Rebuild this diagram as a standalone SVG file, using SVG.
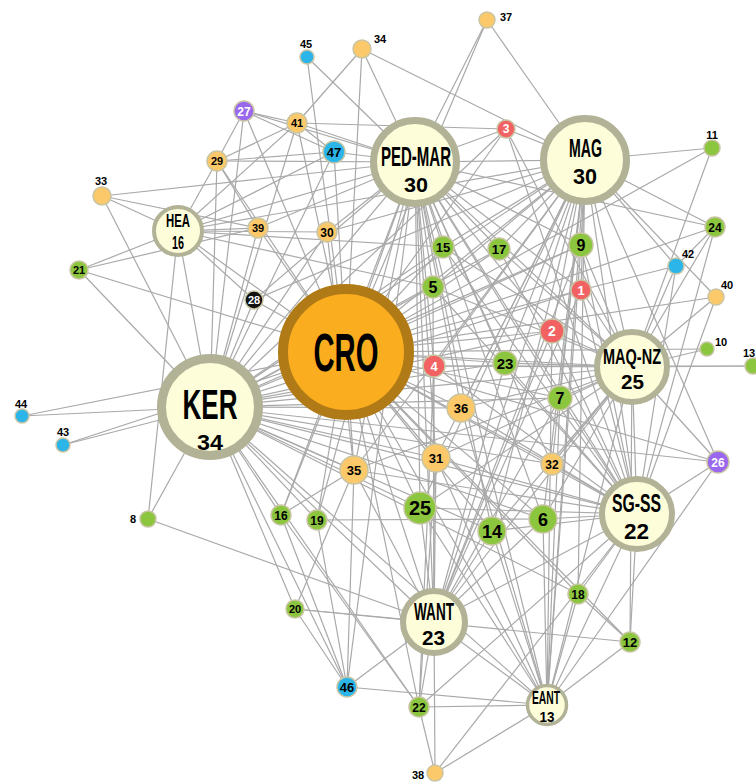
<svg xmlns="http://www.w3.org/2000/svg" width="756" height="783" viewBox="0 0 756 783">
<style>
.e line{stroke:#a9a9a9;stroke-width:1.2}
.s{stroke:#c9c5a5;stroke-width:1.5}
.o{fill:#fcc96a}.g{fill:#8cc63f}.r{fill:#f26262}.b{fill:#2bb5e8}.p{fill:#9a68ee}.k{fill:#111}
.t{font-family:"Liberation Sans",Arial,sans-serif;font-weight:bold;text-anchor:middle;fill:#000}
.w{fill:#fff}
.h{fill:#fdfdda;stroke:#b2b297}
</style>
<rect width="756" height="783" fill="#fff"/>
<g class="e" id="edges">
<line x1="346" y1="352" x2="210" y2="407"/><line x1="346" y1="352" x2="415" y2="162"/><line x1="346" y1="352" x2="585" y2="160"/><line x1="346" y1="352" x2="632" y2="367"/><line x1="346" y1="352" x2="637" y2="514"/><line x1="346" y1="352" x2="434" y2="622"/><line x1="346" y1="352" x2="547" y2="705"/><line x1="346" y1="352" x2="178" y2="231"/>
<line x1="210" y1="407" x2="415" y2="162"/><line x1="210" y1="407" x2="585" y2="160"/><line x1="210" y1="407" x2="632" y2="367"/><line x1="210" y1="407" x2="637" y2="514"/><line x1="210" y1="407" x2="434" y2="622"/><line x1="210" y1="407" x2="178" y2="231"/><line x1="210" y1="407" x2="547" y2="705"/>
<line x1="415" y1="162" x2="585" y2="160"/><line x1="415" y1="162" x2="632" y2="367"/><line x1="415" y1="162" x2="637" y2="514"/><line x1="415" y1="162" x2="434" y2="622"/><line x1="415" y1="162" x2="178" y2="231"/><line x1="415" y1="162" x2="547" y2="705"/>
<line x1="585" y1="160" x2="632" y2="367"/><line x1="585" y1="160" x2="637" y2="514"/><line x1="585" y1="160" x2="434" y2="622"/><line x1="585" y1="160" x2="547" y2="705"/><line x1="585" y1="160" x2="178" y2="231"/>
<line x1="632" y1="367" x2="637" y2="514"/><line x1="632" y1="367" x2="434" y2="622"/><line x1="632" y1="367" x2="547" y2="705"/><line x1="637" y1="514" x2="434" y2="622"/><line x1="637" y1="514" x2="547" y2="705"/><line x1="434" y1="622" x2="547" y2="705"/>
<line x1="581" y1="290" x2="585" y2="160"/><line x1="581" y1="290" x2="415" y2="162"/><line x1="581" y1="290" x2="346" y2="352"/><line x1="581" y1="290" x2="210" y2="407"/><line x1="581" y1="290" x2="632" y2="367"/><line x1="581" y1="290" x2="637" y2="514"/><line x1="581" y1="290" x2="676" y2="266"/><line x1="581" y1="290" x2="434" y2="622"/>
<line x1="552" y1="331" x2="585" y2="160"/><line x1="552" y1="331" x2="415" y2="162"/><line x1="552" y1="331" x2="346" y2="352"/><line x1="552" y1="331" x2="210" y2="407"/><line x1="552" y1="331" x2="632" y2="367"/><line x1="552" y1="331" x2="637" y2="514"/><line x1="552" y1="331" x2="434" y2="622"/><line x1="552" y1="331" x2="547" y2="705"/>
<line x1="506" y1="129" x2="415" y2="162"/><line x1="506" y1="129" x2="585" y2="160"/><line x1="506" y1="129" x2="346" y2="352"/><line x1="506" y1="129" x2="210" y2="407"/><line x1="506" y1="129" x2="632" y2="367"/><line x1="506" y1="129" x2="637" y2="514"/><line x1="506" y1="129" x2="297" y2="123"/>
<line x1="434" y1="366" x2="415" y2="162"/><line x1="434" y1="366" x2="585" y2="160"/><line x1="434" y1="366" x2="210" y2="407"/><line x1="434" y1="366" x2="632" y2="367"/><line x1="434" y1="366" x2="637" y2="514"/><line x1="434" y1="366" x2="434" y2="622"/><line x1="434" y1="366" x2="419" y2="707"/><line x1="434" y1="366" x2="753" y2="366"/>
<line x1="433" y1="287" x2="415" y2="162"/><line x1="433" y1="287" x2="585" y2="160"/><line x1="433" y1="287" x2="210" y2="407"/><line x1="433" y1="287" x2="632" y2="367"/><line x1="433" y1="287" x2="637" y2="514"/><line x1="433" y1="287" x2="434" y2="622"/><line x1="433" y1="287" x2="178" y2="231"/>
<line x1="543" y1="519" x2="346" y2="352"/><line x1="543" y1="519" x2="210" y2="407"/><line x1="543" y1="519" x2="415" y2="162"/><line x1="543" y1="519" x2="585" y2="160"/><line x1="543" y1="519" x2="632" y2="367"/><line x1="543" y1="519" x2="637" y2="514"/><line x1="543" y1="519" x2="434" y2="622"/><line x1="543" y1="519" x2="317" y2="520"/><line x1="543" y1="519" x2="547" y2="705"/>
<line x1="560" y1="398" x2="585" y2="160"/><line x1="560" y1="398" x2="415" y2="162"/><line x1="560" y1="398" x2="346" y2="352"/><line x1="560" y1="398" x2="210" y2="407"/><line x1="560" y1="398" x2="632" y2="367"/><line x1="560" y1="398" x2="637" y2="514"/><line x1="560" y1="398" x2="434" y2="622"/><line x1="560" y1="398" x2="547" y2="705"/>
<line x1="148" y1="519" x2="210" y2="407"/><line x1="148" y1="519" x2="178" y2="231"/><line x1="148" y1="519" x2="434" y2="622"/>
<line x1="581" y1="245" x2="585" y2="160"/><line x1="581" y1="245" x2="415" y2="162"/><line x1="581" y1="245" x2="346" y2="352"/><line x1="581" y1="245" x2="210" y2="407"/><line x1="581" y1="245" x2="632" y2="367"/><line x1="581" y1="245" x2="637" y2="514"/><line x1="581" y1="245" x2="434" y2="622"/><line x1="581" y1="245" x2="547" y2="705"/>
<line x1="707" y1="349" x2="632" y2="367"/><line x1="707" y1="349" x2="346" y2="352"/>
<line x1="712" y1="148" x2="585" y2="160"/><line x1="712" y1="148" x2="632" y2="367"/><line x1="712" y1="148" x2="346" y2="352"/>
<line x1="630" y1="642" x2="637" y2="514"/><line x1="630" y1="642" x2="632" y2="367"/><line x1="630" y1="642" x2="547" y2="705"/><line x1="630" y1="642" x2="578" y2="594"/><line x1="630" y1="642" x2="295" y2="609"/><line x1="630" y1="642" x2="346" y2="352"/>
<line x1="753" y1="366" x2="632" y2="367"/>
<line x1="492" y1="531" x2="346" y2="352"/><line x1="492" y1="531" x2="210" y2="407"/><line x1="492" y1="531" x2="415" y2="162"/><line x1="492" y1="531" x2="585" y2="160"/><line x1="492" y1="531" x2="632" y2="367"/><line x1="492" y1="531" x2="637" y2="514"/><line x1="492" y1="531" x2="434" y2="622"/><line x1="492" y1="531" x2="547" y2="705"/>
<line x1="443" y1="247" x2="415" y2="162"/><line x1="443" y1="247" x2="585" y2="160"/><line x1="443" y1="247" x2="346" y2="352"/><line x1="443" y1="247" x2="210" y2="407"/><line x1="443" y1="247" x2="632" y2="367"/><line x1="443" y1="247" x2="637" y2="514"/><line x1="443" y1="247" x2="178" y2="231"/>
<line x1="281" y1="515" x2="210" y2="407"/><line x1="281" y1="515" x2="346" y2="352"/><line x1="281" y1="515" x2="354" y2="470"/><line x1="281" y1="515" x2="419" y2="707"/><line x1="281" y1="515" x2="415" y2="162"/><line x1="281" y1="515" x2="347" y2="687"/>
<line x1="499" y1="249" x2="415" y2="162"/><line x1="499" y1="249" x2="585" y2="160"/><line x1="499" y1="249" x2="346" y2="352"/><line x1="499" y1="249" x2="210" y2="407"/><line x1="499" y1="249" x2="632" y2="367"/><line x1="499" y1="249" x2="637" y2="514"/>
<line x1="578" y1="594" x2="585" y2="160"/><line x1="578" y1="594" x2="637" y2="514"/><line x1="578" y1="594" x2="547" y2="705"/><line x1="578" y1="594" x2="210" y2="407"/><line x1="578" y1="594" x2="346" y2="352"/>
<line x1="317" y1="520" x2="346" y2="352"/><line x1="317" y1="520" x2="210" y2="407"/><line x1="317" y1="520" x2="415" y2="162"/><line x1="317" y1="520" x2="347" y2="687"/>
<line x1="295" y1="609" x2="210" y2="407"/><line x1="295" y1="609" x2="434" y2="622"/><line x1="295" y1="609" x2="347" y2="687"/><line x1="295" y1="609" x2="354" y2="470"/>
<line x1="79" y1="270" x2="178" y2="231"/><line x1="79" y1="270" x2="258" y2="228"/><line x1="79" y1="270" x2="346" y2="352"/><line x1="79" y1="270" x2="210" y2="407"/>
<line x1="419" y1="707" x2="434" y2="622"/><line x1="419" y1="707" x2="210" y2="407"/><line x1="419" y1="707" x2="346" y2="352"/><line x1="419" y1="707" x2="547" y2="705"/><line x1="419" y1="707" x2="435" y2="773"/><line x1="419" y1="707" x2="637" y2="514"/>
<line x1="505" y1="363" x2="346" y2="352"/><line x1="505" y1="363" x2="415" y2="162"/><line x1="505" y1="363" x2="585" y2="160"/><line x1="505" y1="363" x2="210" y2="407"/><line x1="505" y1="363" x2="632" y2="367"/><line x1="505" y1="363" x2="637" y2="514"/><line x1="505" y1="363" x2="434" y2="622"/>
<line x1="715" y1="227" x2="585" y2="160"/><line x1="715" y1="227" x2="632" y2="367"/><line x1="715" y1="227" x2="637" y2="514"/><line x1="715" y1="227" x2="346" y2="352"/><line x1="715" y1="227" x2="415" y2="162"/><line x1="715" y1="227" x2="676" y2="266"/>
<line x1="420" y1="508" x2="346" y2="352"/><line x1="420" y1="508" x2="210" y2="407"/><line x1="420" y1="508" x2="415" y2="162"/><line x1="420" y1="508" x2="585" y2="160"/><line x1="420" y1="508" x2="632" y2="367"/><line x1="420" y1="508" x2="637" y2="514"/><line x1="420" y1="508" x2="434" y2="622"/><line x1="420" y1="508" x2="547" y2="705"/>
<line x1="718" y1="462" x2="632" y2="367"/><line x1="718" y1="462" x2="637" y2="514"/><line x1="718" y1="462" x2="585" y2="160"/><line x1="718" y1="462" x2="346" y2="352"/><line x1="718" y1="462" x2="547" y2="705"/><line x1="718" y1="462" x2="210" y2="407"/>
<line x1="244" y1="111" x2="217" y2="161"/><line x1="244" y1="111" x2="297" y2="123"/><line x1="244" y1="111" x2="210" y2="407"/><line x1="244" y1="111" x2="346" y2="352"/><line x1="244" y1="111" x2="415" y2="162"/><line x1="244" y1="111" x2="334" y2="152"/>
<line x1="254" y1="300" x2="210" y2="407"/><line x1="254" y1="300" x2="178" y2="231"/><line x1="254" y1="300" x2="346" y2="352"/><line x1="254" y1="300" x2="415" y2="162"/><line x1="254" y1="300" x2="585" y2="160"/>
<line x1="217" y1="161" x2="178" y2="231"/><line x1="217" y1="161" x2="210" y2="407"/><line x1="217" y1="161" x2="415" y2="162"/><line x1="217" y1="161" x2="346" y2="352"/><line x1="217" y1="161" x2="297" y2="123"/>
<line x1="327" y1="232" x2="178" y2="231"/><line x1="327" y1="232" x2="415" y2="162"/><line x1="327" y1="232" x2="210" y2="407"/><line x1="327" y1="232" x2="585" y2="160"/><line x1="327" y1="232" x2="354" y2="470"/>
<line x1="436" y1="458" x2="346" y2="352"/><line x1="436" y1="458" x2="210" y2="407"/><line x1="436" y1="458" x2="415" y2="162"/><line x1="436" y1="458" x2="585" y2="160"/><line x1="436" y1="458" x2="632" y2="367"/><line x1="436" y1="458" x2="637" y2="514"/><line x1="436" y1="458" x2="434" y2="622"/><line x1="436" y1="458" x2="547" y2="705"/><line x1="436" y1="458" x2="419" y2="707"/>
<line x1="552" y1="464" x2="585" y2="160"/><line x1="552" y1="464" x2="632" y2="367"/><line x1="552" y1="464" x2="637" y2="514"/><line x1="552" y1="464" x2="346" y2="352"/><line x1="552" y1="464" x2="210" y2="407"/><line x1="552" y1="464" x2="415" y2="162"/>
<line x1="102" y1="196" x2="178" y2="231"/><line x1="102" y1="196" x2="415" y2="162"/><line x1="102" y1="196" x2="210" y2="407"/><line x1="102" y1="196" x2="258" y2="228"/>
<line x1="362" y1="49" x2="297" y2="123"/><line x1="362" y1="49" x2="346" y2="352"/><line x1="362" y1="49" x2="415" y2="162"/><line x1="362" y1="49" x2="585" y2="160"/>
<line x1="354" y1="470" x2="346" y2="352"/><line x1="354" y1="470" x2="210" y2="407"/><line x1="354" y1="470" x2="415" y2="162"/><line x1="354" y1="470" x2="585" y2="160"/><line x1="354" y1="470" x2="632" y2="367"/><line x1="354" y1="470" x2="637" y2="514"/><line x1="354" y1="470" x2="434" y2="622"/>
<line x1="461" y1="408" x2="346" y2="352"/><line x1="461" y1="408" x2="210" y2="407"/><line x1="461" y1="408" x2="415" y2="162"/><line x1="461" y1="408" x2="585" y2="160"/><line x1="461" y1="408" x2="632" y2="367"/><line x1="461" y1="408" x2="637" y2="514"/><line x1="461" y1="408" x2="547" y2="705"/>
<line x1="487" y1="20" x2="415" y2="162"/><line x1="487" y1="20" x2="346" y2="352"/><line x1="487" y1="20" x2="585" y2="160"/>
<line x1="435" y1="773" x2="434" y2="622"/><line x1="435" y1="773" x2="637" y2="514"/><line x1="435" y1="773" x2="547" y2="705"/>
<line x1="258" y1="228" x2="178" y2="231"/><line x1="258" y1="228" x2="415" y2="162"/><line x1="258" y1="228" x2="346" y2="352"/><line x1="258" y1="228" x2="210" y2="407"/><line x1="258" y1="228" x2="217" y2="161"/>
<line x1="716" y1="297" x2="585" y2="160"/><line x1="716" y1="297" x2="632" y2="367"/><line x1="716" y1="297" x2="346" y2="352"/><line x1="716" y1="297" x2="637" y2="514"/>
<line x1="297" y1="123" x2="415" y2="162"/><line x1="297" y1="123" x2="178" y2="231"/><line x1="297" y1="123" x2="210" y2="407"/><line x1="297" y1="123" x2="346" y2="352"/>
<line x1="676" y1="266" x2="585" y2="160"/><line x1="676" y1="266" x2="632" y2="367"/><line x1="676" y1="266" x2="637" y2="514"/>
<line x1="63" y1="445" x2="210" y2="407"/><line x1="63" y1="445" x2="346" y2="352"/>
<line x1="22" y1="416" x2="210" y2="407"/><line x1="22" y1="416" x2="346" y2="352"/>
<line x1="307" y1="57" x2="415" y2="162"/><line x1="307" y1="57" x2="346" y2="352"/>
<line x1="347" y1="687" x2="434" y2="622"/><line x1="347" y1="687" x2="210" y2="407"/><line x1="347" y1="687" x2="547" y2="705"/><line x1="347" y1="687" x2="354" y2="470"/><line x1="347" y1="687" x2="415" y2="162"/>
<line x1="334" y1="152" x2="415" y2="162"/><line x1="334" y1="152" x2="217" y2="161"/><line x1="334" y1="152" x2="297" y2="123"/><line x1="334" y1="152" x2="210" y2="407"/><line x1="334" y1="152" x2="346" y2="352"/><line x1="334" y1="152" x2="178" y2="231"/>
</g>
<g id="CRO"><circle cx="346" cy="352" r="63" fill="#f9ad1f" stroke="#b07b16" stroke-width="10"/><text class="t" x="346" y="371" font-size="53" textLength="65" lengthAdjust="spacingAndGlyphs">CRO</text></g>
<g id="KER"><circle class="h" cx="210" cy="407" r="48.5" stroke-width="9"/><text class="t" x="210" y="419" font-size="43" textLength="55" lengthAdjust="spacingAndGlyphs">KER</text><text class="t" x="210" y="450" font-size="22" textLength="26" lengthAdjust="spacingAndGlyphs">34</text></g>
<g id="PED-MAR"><circle class="h" cx="415" cy="162" r="41.5" stroke-width="7"/><text class="t" x="416" y="166" font-size="28" textLength="70" lengthAdjust="spacingAndGlyphs">PED-MAR</text><text class="t" x="416" y="192" font-size="21" textLength="24" lengthAdjust="spacingAndGlyphs">30</text></g>
<g id="MAG"><circle class="h" cx="585" cy="160" r="41.5" stroke-width="7"/><text class="t" x="585.5" y="157" font-size="25" textLength="33" lengthAdjust="spacingAndGlyphs">MAG</text><text class="t" x="585" y="184" font-size="22" textLength="24" lengthAdjust="spacingAndGlyphs">30</text></g>
<g id="HEA"><circle class="h" cx="178" cy="231" r="24" stroke-width="4"/><text class="t" x="178" y="226.5" font-size="19" textLength="24" lengthAdjust="spacingAndGlyphs">HEA</text><text class="t" x="178" y="248.5" font-size="19" textLength="12" lengthAdjust="spacingAndGlyphs">16</text></g>
<g id="MAQ-NZ"><circle class="h" cx="632" cy="367" r="35" stroke-width="6"/><text class="t" x="632" y="364" font-size="22" textLength="58" lengthAdjust="spacingAndGlyphs">MAQ-NZ</text><text class="t" x="632.5" y="389" font-size="21" textLength="23" lengthAdjust="spacingAndGlyphs">25</text></g>
<g id="SG-SS"><circle class="h" cx="637" cy="514" r="35" stroke-width="6"/><text class="t" x="636.5" y="512" font-size="25" textLength="49" lengthAdjust="spacingAndGlyphs">SG-SS</text><text class="t" x="636.5" y="539" font-size="22" textLength="25" lengthAdjust="spacingAndGlyphs">22</text></g>
<g id="WANT"><circle class="h" cx="434" cy="622" r="31" stroke-width="6"/><text class="t" x="434" y="620" font-size="23" textLength="40" lengthAdjust="spacingAndGlyphs">WANT</text><text class="t" x="433.5" y="645" font-size="21" textLength="23" lengthAdjust="spacingAndGlyphs">23</text></g>
<g id="EANT"><circle class="h" cx="547" cy="705" r="19.5" stroke-width="3.5"/><text class="t" x="546" y="704" font-size="18" textLength="28" lengthAdjust="spacingAndGlyphs">EANT</text><text class="t" x="547" y="722" font-size="15" textLength="15" lengthAdjust="spacingAndGlyphs">13</text></g>
<g id="n1"><circle class="r s" cx="581" cy="290" r="10"/><text class="t w" x="581" y="295" font-size="13">1</text></g>
<g id="n2"><circle class="r s" cx="552" cy="331" r="12"/><text class="t w" x="552" y="336" font-size="14">2</text></g>
<g id="n3"><circle class="r s" cx="506" cy="129" r="9"/><text class="t w" x="506" y="133" font-size="12">3</text></g>
<g id="n4"><circle class="r s" cx="434" cy="366" r="11"/><text class="t w" x="434" y="371" font-size="13">4</text></g>
<g id="n5"><circle class="g s" cx="433" cy="287" r="11"/><text class="t" x="433" y="292.5" font-size="16">5</text></g>
<g id="n6"><circle class="g s" cx="543" cy="519" r="14"/><text class="t" x="543" y="525.5" font-size="18">6</text></g>
<g id="n7"><circle class="g s" cx="560" cy="398" r="12"/><text class="t" x="560" y="404" font-size="16">7</text></g>
<g id="n8"><circle class="g s" cx="148" cy="519" r="8"/><text class="t" x="133" y="523" font-size="11">8</text></g>
<g id="n9"><circle class="g s" cx="581" cy="245" r="12"/><text class="t" x="581" y="251" font-size="16">9</text></g>
<g id="n10"><circle class="g s" cx="707" cy="349" r="7"/><text class="t" x="721" y="346" font-size="11">10</text></g>
<g id="n11"><circle class="g s" cx="712" cy="148" r="8"/><text class="t" x="712" y="139" font-size="11">11</text></g>
<g id="n12"><circle class="g s" cx="630" cy="642" r="10"/><text class="t" x="630" y="647" font-size="13">12</text></g>
<g id="n13"><circle class="g s" cx="753" cy="366" r="8"/><text class="t" x="749" y="357" font-size="11" text-anchor="start">13</text></g>
<g id="n14"><circle class="g s" cx="492" cy="531" r="14"/><text class="t" x="492" y="537.5" font-size="18">14</text></g>
<g id="n15"><circle class="g s" cx="443" cy="247" r="11"/><text class="t" x="443" y="252" font-size="13">15</text></g>
<g id="n16"><circle class="g s" cx="281" cy="515" r="10"/><text class="t" x="281" y="519.5" font-size="12">16</text></g>
<g id="n17"><circle class="g s" cx="499" cy="249" r="11"/><text class="t" x="499" y="254" font-size="13">17</text></g>
<g id="n18"><circle class="g s" cx="578" cy="594" r="10"/><text class="t" x="578" y="598.5" font-size="12">18</text></g>
<g id="n19"><circle class="g s" cx="317" cy="520" r="10"/><text class="t" x="317" y="524.5" font-size="12">19</text></g>
<g id="n20"><circle class="g s" cx="295" cy="609" r="9"/><text class="t" x="295" y="613" font-size="11">20</text></g>
<g id="n21"><circle class="g s" cx="79" cy="270" r="9"/><text class="t" x="79" y="274" font-size="11">21</text></g>
<g id="n22"><circle class="g s" cx="419" cy="707" r="10"/><text class="t" x="419" y="711.5" font-size="12">22</text></g>
<g id="n23"><circle class="g s" cx="505" cy="363" r="12"/><text class="t" x="505" y="368.5" font-size="15">23</text></g>
<g id="n24"><circle class="g s" cx="715" cy="227" r="10"/><text class="t" x="715" y="231.5" font-size="12">24</text></g>
<g id="n25"><circle class="g s" cx="420" cy="508" r="16"/><text class="t" x="420" y="515" font-size="20">25</text></g>
<g id="n26"><circle class="p s" cx="718" cy="462" r="11"/><text class="t w" x="718" y="466.5" font-size="12">26</text></g>
<g id="n27"><circle class="p s" cx="244" cy="111" r="10"/><text class="t w" x="244" y="115.5" font-size="12">27</text></g>
<g id="n28"><circle class="k s" cx="254" cy="300" r="9"/><text class="t w" x="254" y="304" font-size="11">28</text></g>
<g id="n29"><circle class="o s" cx="217" cy="161" r="10"/><text class="t" x="217" y="165" font-size="11">29</text></g>
<g id="n30"><circle class="o s" cx="327" cy="232" r="10"/><text class="t" x="327" y="236.5" font-size="12">30</text></g>
<g id="n31"><circle class="o s" cx="436" cy="458" r="14"/><text class="t" x="436" y="463" font-size="13">31</text></g>
<g id="n32"><circle class="o s" cx="552" cy="464" r="11"/><text class="t" x="552" y="468.5" font-size="12">32</text></g>
<g id="n33"><circle class="o s" cx="102" cy="196" r="9"/><text class="t" x="101" y="185" font-size="11">33</text></g>
<g id="n34"><circle class="o s" cx="362" cy="49" r="9"/><text class="t" x="380" y="43" font-size="11">34</text></g>
<g id="n35"><circle class="o s" cx="354" cy="470" r="14"/><text class="t" x="354" y="475" font-size="13">35</text></g>
<g id="n36"><circle class="o s" cx="461" cy="408" r="14"/><text class="t" x="461" y="413" font-size="13">36</text></g>
<g id="n37"><circle class="o s" cx="487" cy="20" r="8"/><text class="t" x="506" y="21" font-size="11">37</text></g>
<g id="n38"><circle class="o s" cx="435" cy="773" r="8"/><text class="t" x="418" y="779" font-size="11">38</text></g>
<g id="n39"><circle class="o s" cx="258" cy="228" r="10"/><text class="t" x="258" y="232" font-size="11">39</text></g>
<g id="n40"><circle class="o s" cx="716" cy="297" r="8"/><text class="t" x="727" y="289" font-size="11">40</text></g>
<g id="n41"><circle class="o s" cx="297" cy="123" r="10"/><text class="t" x="297" y="127" font-size="11">41</text></g>
<g id="n42"><circle class="b s" cx="676" cy="266" r="8"/><text class="t" x="688" y="258" font-size="11">42</text></g>
<g id="n43"><circle class="b s" cx="63" cy="445" r="7"/><text class="t" x="63" y="436" font-size="11">43</text></g>
<g id="n44"><circle class="b s" cx="22" cy="416" r="7"/><text class="t" x="21" y="408" font-size="11">44</text></g>
<g id="n45"><circle class="b s" cx="307" cy="57" r="7"/><text class="t" x="306" y="48" font-size="11">45</text></g>
<g id="n46"><circle class="b s" cx="347" cy="687" r="10"/><text class="t" x="347" y="692" font-size="13">46</text></g>
<g id="n47"><circle class="b s" cx="334" cy="152" r="11"/><text class="t" x="334" y="157" font-size="13">47</text></g>
</svg>
